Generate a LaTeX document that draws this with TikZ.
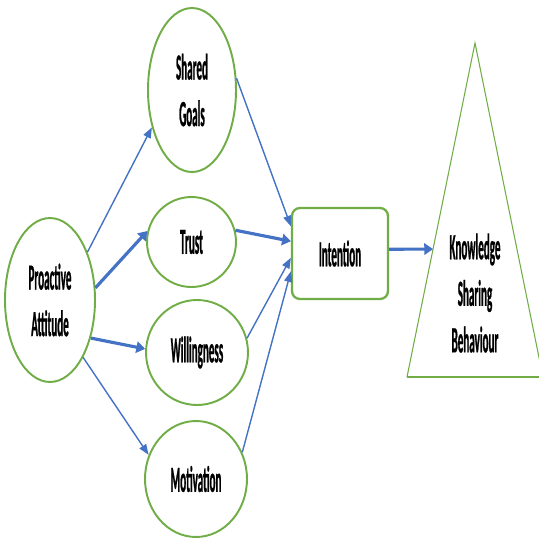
\documentclass[tikz,border=0pt]{standalone}
\usepackage{fontspec}
\newfontfamily\labelfont[FakeStretch=0.3,FakeBold=0.6]{Carlito}
\newcommand\labeltext{\labelfont\bfseries\fontsize{21}{26.5}\selectfont}
\usetikzlibrary{calc,shapes.geometric,arrows.meta}
\definecolor{boxgreen}{RGB}{112,173,71}
\definecolor{arrowblue}{RGB}{68,114,196}

\begin{document}
\begin{tikzpicture}[x=0.02cm,y=-0.02cm,
        factor/.style={ellipse,draw=boxgreen,line width=1.1pt,inner sep=0pt,
            font=\labeltext,align=center},
        thinarrow/.style={draw=arrowblue,line width=0.8pt,
            -{Triangle[length=6pt,width=4.5pt]}},
        thickarrow/.style={draw=arrowblue,line width=1.8pt,
            -{Triangle[length=5pt,width=6.5pt]}}]
        % Page size
        \useasboundingbox (0,0) rectangle (539,539);
        \clip (0,0) rectangle (539,539);

        % Draw the starting ellipse
        \node[factor,minimum width=1.8cm,minimum height=3.28cm] (pa) at (50,300) {Proactive\\Attitude};

        % Draw the four middle ellipses
        \node[factor,minimum width=1.76cm,minimum height=3.28cm] (sg) at (192,90) {Shared\\Goals};
        \node[factor,minimum width=1.78cm,minimum height=1.8cm] (tr) at (191.5,242) {Trust};
        \node[factor,minimum width=2.04cm,minimum height=2.1cm] (wi) at (197,352.5) {Willingness};
        \node[factor,minimum width=2.04cm,minimum height=2.32cm] (mo) at (196,479) {Motivation};

        % Draw the intention box
        \node[draw=boxgreen,line width=1.3pt,rounded corners=4.5pt,inner sep=0pt,
            minimum width=1.92cm,minimum height=1.82cm,font=\labeltext] (int) at (340,253.5) {Intention};

        % Triangle for the behaviour
        \coordinate (apex) at (475,43);
        \coordinate (bl) at (407,377);
        \coordinate (br) at (543,377);
        \draw[boxgreen,line width=0.6pt] (bl) -- (apex) -- (br);
        \draw[boxgreen,line width=1.4pt] (bl) -- (br);
        \node[font=\labeltext,align=center] (ksb) at (475,293) {Knowledge\\Sharing\\Behaviour};
        \coordinate (ksbin) at ($(apex)!0.617!(bl)$);

        % Arrows out of the starting ellipse
        \draw[thinarrow] (pa.52) -- (sg.223);
        \draw[thickarrow] (pa.15) -- (tr.166);
        \draw[thickarrow] (pa.-43) -- (wi.176);
        \draw[thinarrow] (pa.-60) -- (mo.153);

        % Arrows into the intention box
        \draw[thinarrow] (sg.15) -- (int.151.6);
        \draw[thickarrow] (tr.15) -- (int.166.5);
        \draw[thinarrow] (wi.16) -- (int.185.2);
        \draw[thinarrow] (mo.30) -- (int.200.7);

        % Intention to behaviour
        \draw[thickarrow] (int.5.4) -- (ksbin);
\end{tikzpicture}
\end{document}
